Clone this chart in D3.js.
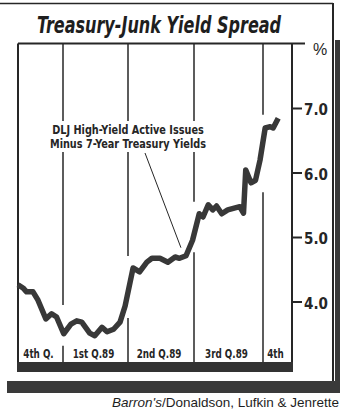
<!DOCTYPE html>
<html>
<head>
<meta charset="utf-8">
<script src="https://cdn.jsdelivr.net/npm/d3@7"></script>
<style>
  body { margin: 0; background: #fff; }
  svg { display: block; }
</style>
</head>
<body>
<svg id="chart" width="340" height="411"></svg>
<script>
// Weekly-ish readings of the DLJ high-yield minus 7-year Treasury spread (%)
const dates = [
  "1988-10-30","1988-11-06","1988-11-11","1988-11-20","1988-11-27","1988-12-08",
  "1988-12-16","1988-12-23","1989-01-02","1989-01-12","1989-01-20","1989-01-27",
  "1989-02-07","1989-02-14","1989-02-24","1989-03-03","1989-03-12","1989-03-21",
  "1989-03-28","1989-04-08","1989-04-17","1989-04-27","1989-05-04","1989-05-15",
  "1989-05-26","1989-06-05","1989-06-11","1989-06-20","1989-06-29","1989-07-08",
  "1989-07-13","1989-07-20","1989-07-26","1989-07-31","1989-08-07","1989-08-15",
  "1989-08-31","1989-09-05","1989-09-08","1989-09-15","1989-09-21","1989-09-27",
  "1989-10-04","1989-10-11","1989-10-15","1989-10-22"
];
const spread = [
  4.26, 4.21, 4.15, 4.15, 4.02, 3.73,
  3.81, 3.76, 3.50, 3.65, 3.70, 3.68,
  3.51, 3.47, 3.60, 3.53, 3.57, 3.68,
  3.93, 4.52, 4.46, 4.61, 4.67, 4.67,
  4.61, 4.69, 4.67, 4.71, 4.95, 5.36,
  5.31, 5.50, 5.42, 5.48, 5.36, 5.42,
  5.47, 5.37, 6.04, 5.84, 5.88, 6.19,
  6.69, 6.71, 6.69, 6.84
];

// Quarter boundaries along the time axis and their labels
const quarterEdges = ["1988-10-30","1989-01-01","1989-04-01","1989-07-01","1989-10-01","1989-11-10"];
const quarterLabels = ["4th Q.", "1st Q.89", "2nd Q.89", "3rd Q.89", "4th"];

// Right-hand axis
const yTicks = [4.0, 5.0, 6.0, 7.0];
const yUnit = "%";
const yMin = 3.0, yMax = 8.0;

const titleText = "Treasury-Junk Yield Spread";
const noteLines = ["DLJ High-Yield Active Issues", "Minus 7-Year Treasury Yields"];
const noteDate = "1989-06-13";
const sourceItalic = "Barron's";
const sourceRest = "/Donaldson, Lufkin & Jenrette";

const parse = d3.timeParse("%Y-%m-%d");
const series = dates.map((d, i) => ({ date: parse(d), value: spread[i] }));
const edges = quarterEdges.map(parse);

const ink = "#262626";
const lineInk = "#383838";
const narrow = "'Liberation Sans Narrow', 'DejaVu Sans Condensed', 'Arial Narrow', sans-serif";

// Squeeze a text element horizontally to a fraction of its natural width
function condense(sel, factor) {
  sel.each(function () {
    const w = this.getComputedTextLength();
    d3.select(this).attr("textLength", w * factor).attr("lengthAdjust", "spacingAndGlyphs");
  });
}

const svg = d3.select("#chart");

const x = d3.scaleTime().domain(edges).range([18, 63, 128, 194, 263, 292]);
const y = d3.scaleLinear().domain([yMin, yMax]).range([366, 43.5]);

const plotLeft = x(edges[0]);
const plotRight = x(edges[edges.length - 1]);
const plotTop = y(yMax);
const plotBottom = y(yMin);

// Outer frame: hairline top rule and right edge, with a heavy shadow bar below
svg.append("line")
  .attr("x1", 0).attr("x2", 333).attr("y1", 3.5).attr("y2", 3.5)
  .attr("stroke", ink).attr("stroke-width", 1.5);
svg.append("line")
  .attr("x1", 333).attr("x2", 333).attr("y1", 3).attr("y2", 384)
  .attr("stroke", ink).attr("stroke-width", 2);
svg.append("rect")
  .attr("x", 335).attr("y", 40).attr("width", 5).attr("height", 344)
  .attr("fill", "#3a3a3a");
svg.append("rect")
  .attr("x", 7).attr("y", 381).attr("width", 333).attr("height", 12)
  .attr("fill", "#3a3a3a");

// Title, set in a horizontally compressed group
svg.append("g")
  .attr("transform", "translate(159,32.5) scale(0.775,1)")
  .append("text")
  .attr("x", 0).attr("y", 0)
  .attr("text-anchor", "middle")
  .attr("font-family", narrow)
  .attr("font-weight", "bold")
  .attr("font-style", "italic")
  .attr("font-size", 23)
  .attr("fill", "#1e1e1e")
  .text(titleText);

// Quarter dividers, broken where the spread line crosses them
const dayMs = 864e5;
function valueAt(date) {
  const bis = d3.bisector(d => d.date).left;
  const i = Math.max(1, Math.min(series.length - 1, bis(series, date)));
  const a = series[i - 1], b = series[i];
  const t = (date - a.date) / (b.date - a.date);
  return a.value + (b.value - a.value) * Math.max(0, Math.min(1, t));
}
const dividers = edges.slice(1, edges.length - 1).map(e => {
  const near = series.filter(d => Math.abs(d.date - e) <= 10 * dayMs).map(d => y(d.value));
  near.push(y(valueAt(e)));
  return { x: x(e), top: d3.min(near) - 12, bottom: d3.max(near) + 12 };
});

const grid = svg.append("g").attr("stroke", ink).attr("stroke-width", 1.5);
dividers.forEach(d => {
  grid.append("line").attr("x1", d.x).attr("x2", d.x).attr("y1", plotTop).attr("y2", d.top);
  grid.append("line").attr("x1", d.x).attr("x2", d.x).attr("y1", d.bottom).attr("y2", plotBottom);
});

// Plot frame
svg.append("line")
  .attr("x1", plotLeft).attr("x2", plotLeft).attr("y1", plotTop).attr("y2", plotBottom)
  .attr("stroke", ink).attr("stroke-width", 2);
svg.append("line")
  .attr("x1", plotLeft).attr("x2", plotRight + 13).attr("y1", plotTop).attr("y2", plotTop)
  .attr("stroke", ink).attr("stroke-width", 2);
svg.append("line")
  .attr("x1", plotRight).attr("x2", plotRight).attr("y1", plotTop).attr("y2", plotBottom + 6)
  .attr("stroke", ink).attr("stroke-width", 2);
svg.append("rect")
  .attr("x", plotLeft - 1).attr("y", plotBottom - 4)
  .attr("width", plotRight - plotLeft + 2).attr("height", 10)
  .attr("fill", "#333");

// Right axis ticks and labels
const axis = d3.axisRight(y)
  .tickValues(yTicks)
  .tickSize(10)
  .tickPadding(2)
  .tickFormat(d3.format(".1f"));
const axisG = svg.append("g")
  .attr("transform", `translate(${plotRight},0)`)
  .call(axis);
axisG.select(".domain").remove();
axisG.selectAll(".tick line").attr("stroke", ink).attr("stroke-width", 2);
axisG.selectAll(".tick text")
  .attr("fill", ink)
  .attr("font-family", narrow)
  .attr("font-weight", "bold")
  .attr("font-size", 15)
  .attr("dy", "0.45em");

svg.append("text")
  .attr("x", plotRight + 21).attr("y", plotTop + 11)
  .attr("font-family", "'Liberation Sans', Arial, sans-serif")
  .attr("font-size", 16)
  .attr("fill", ink)
  .text(yUnit);

// Quarter labels along the bottom strip
svg.append("g")
  .selectAll("text")
  .data(quarterLabels)
  .join("text")
  .attr("x", (d, i) => (x(edges[i]) + x(edges[i + 1])) / 2 - 2)
  .attr("y", 357.5)
  .attr("text-anchor", "middle")
  .attr("font-family", narrow)
  .attr("font-weight", "bold")
  .attr("font-size", 13)
  .attr("fill", ink)
  .text(d => d)
  .call(condense, 0.75);

// Spread line
const line = d3.line()
  .x(d => x(d.date))
  .y(d => y(d.value));
svg.append("path")
  .datum(series)
  .attr("fill", "none")
  .attr("stroke", lineInk)
  .attr("stroke-width", 5.5)
  .attr("stroke-linejoin", "round")
  .attr("d", line);

// Annotation with knock-out background and leader line
const note = svg.append("g");
const noteBg = note.append("rect").attr("fill", "#fff");
const noteText = note.append("text")
  .attr("text-anchor", "middle")
  .attr("font-family", narrow)
  .attr("font-weight", "bold")
  .attr("font-size", 13)
  .attr("fill", ink);
noteLines.forEach((t, i) => {
  noteText.append("tspan").attr("x", 128).attr("y", 134 + i * 14).text(t);
});
noteText.selectAll("tspan").call(condense, 0.83);
const bb = noteText.node().getBBox();
noteBg.attr("x", bb.x - 3).attr("y", bb.y - 1).attr("width", bb.width + 6).attr("height", bb.height + 2);

const nd = parse(noteDate);
svg.append("line")
  .attr("x1", 145).attr("y1", bb.y + bb.height + 2)
  .attr("x2", x(nd)).attr("y2", y(valueAt(nd)) - 10)
  .attr("stroke", ink).attr("stroke-width", 1);

// Source line
const src = svg.append("text")
  .attr("x", 339).attr("y", 407)
  .attr("text-anchor", "end")
  .attr("font-family", "'Liberation Sans', Arial, sans-serif")
  .attr("font-size", 13.5)
  .attr("fill", "#1e1e1e");
src.append("tspan").attr("font-style", "italic").text(sourceItalic);
src.append("tspan").text(sourceRest);
</script>
</body>
</html>
